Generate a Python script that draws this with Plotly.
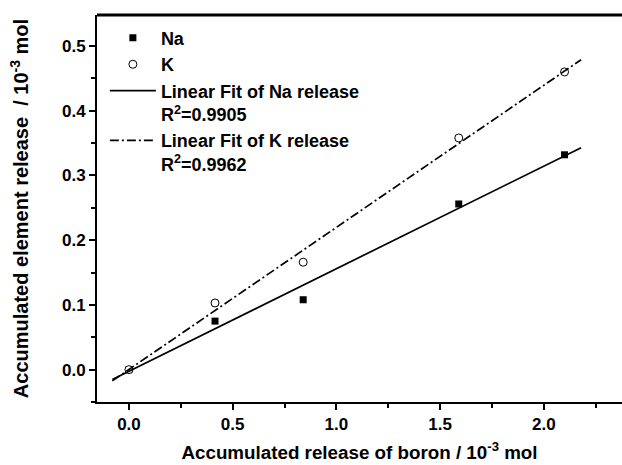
import numpy as np
import plotly.graph_objects as go

boron = [0.0, 0.415, 0.84, 1.59, 2.1]
na_release = [0.0, 0.075, 0.108, 0.256, 0.332]
k_release = [0.0, 0.103, 0.166, 0.358, 0.46]
fit_x_range = [-0.08, 2.18]
r2_na = "0.9905"
r2_k = "0.9962"

FONT = "Liberation Sans, Arial, sans-serif"

na_fit = np.polyfit(boron, na_release, 1)
k_fit = np.polyfit(boron, k_release, 1)
fx = np.array(fit_x_range)

fig = go.Figure()
fig.add_trace(go.Scatter(x=boron, y=na_release, mode="markers", name="Na",
                         marker=dict(symbol="square", size=7, color="black",
                                     line=dict(width=0))))
fig.add_trace(go.Scatter(x=boron, y=k_release, mode="markers", name="K",
                         marker=dict(symbol="circle", size=8, color="white",
                                     line=dict(width=1, color="black"))))
fig.add_trace(go.Scatter(x=fx, y=np.polyval(na_fit, fx), mode="lines",
                         name="Linear Fit of Na release<br>R<sup>2</sup>=" + r2_na,
                         line=dict(color="black", width=1.7)))
fig.add_trace(go.Scatter(x=fx, y=np.polyval(k_fit, fx), mode="lines",
                         name="Linear Fit of K release<br>R<sup>2</sup>=" + r2_k,
                         line=dict(color="black", width=1.7, dash="9px,3px,2px,3px")))

axis_common = dict(
    showgrid=False, zeroline=False, showline=True, linecolor="black", linewidth=2,
    ticks="outside", ticklen=6, tickwidth=2, tickcolor="black",
    tickfont=dict(family=FONT, size=17, color="black", weight="bold"),
)
fig.update_xaxes(**axis_common, range=[-0.154, 2.377], dtick=0.5, tick0=0,
                 tickformat=".1f", mirror=False,
                 minor=dict(ticks="outside", ticklen=4, tickwidth=1.5, dtick=0.25,
                            tickcolor="black"),
                 title=dict(text="Accumulated release of boron / 10<sup>-3</sup> mol",
                            font=dict(family=FONT, size=18.8, color="black", weight="bold"),
                            standoff=12))
fig.update_yaxes(**axis_common, range=[-0.05, 0.548], dtick=0.1, tick0=0,
                 tickformat=".1f",
                 minor=dict(ticks="outside", ticklen=4, tickwidth=1.5, dtick=0.05,
                            tickcolor="black"),
                 title=dict(text="Accumulated element release  / 10<sup>-3</sup> mol",
                            font=dict(family=FONT, size=20, color="black", weight="bold"),
                            standoff=28))

# top frame line
fig.add_shape(type="line", xref="paper", yref="paper", x0=0, x1=1, y0=1, y1=1,
              line=dict(color="black", width=3))

fig.update_layout(
    width=622, height=465,
    margin=dict(l=97, r=0, t=15, b=63),
    paper_bgcolor="white", plot_bgcolor="white",
    showlegend=True,
    legend=dict(x=0.015, y=0.988, xanchor="left", yanchor="top",
                bgcolor="rgba(0,0,0,0)", valign="top", itemwidth=46,
                font=dict(family=FONT, size=18, color="black", weight="bold"),
                tracegroupgap=0),
    font=dict(family=FONT, color="black"),
)

fig.write_html("out.html")
